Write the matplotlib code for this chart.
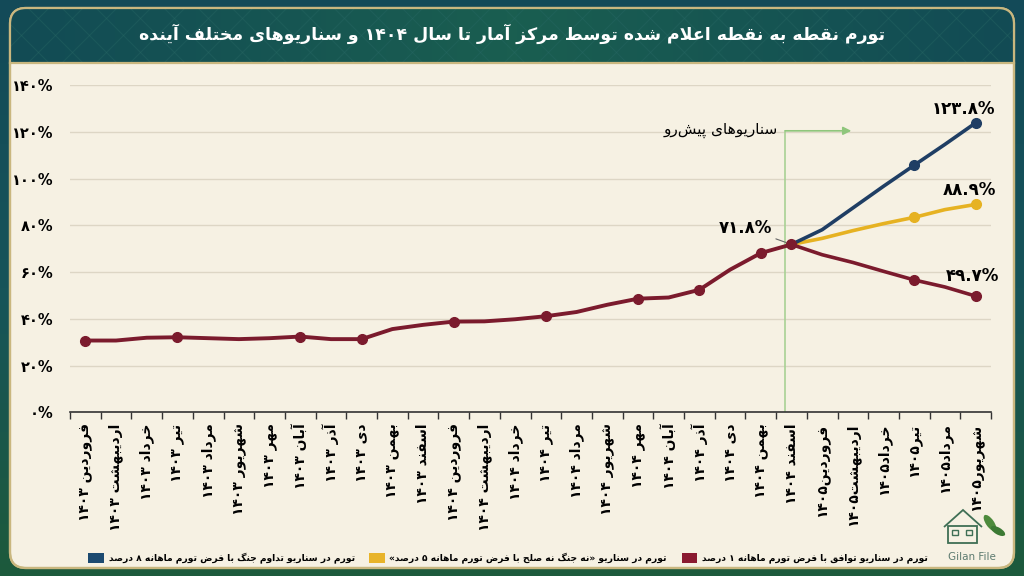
import re
import numpy as np
import matplotlib
matplotlib.use('Agg')
import matplotlib.pyplot as plt
from matplotlib.patches import FancyBboxPatch, Patch, Polygon, Ellipse, Rectangle
from matplotlib.colors import LinearSegmentedColormap

# ---- data ----
month_names = ['فروردین', 'اردیبهشت', 'خرداد', 'تیر', 'مرداد', 'شهریور',
               'مهر', 'آبان', 'آذر', 'دی', 'بهمن', 'اسفند']
years = ['۱۴۰۳', '۱۴۰۴']
tick_labels = [m + ' ' + y for y in years for m in month_names] + \
              [m + '۱۴۰۵' for m in month_names[:6]]

# actual point-to-point inflation, فروردین ۱۴۰۳ .. اسفند ۱۴۰۴
actual = [30.7, 30.7, 31.9, 32.1, 31.7, 31.3, 31.7, 32.4, 31.3, 31.3, 35.6, 37.4,
          38.8, 38.9, 39.8, 41.1, 42.9, 46.0, 48.6, 49.1, 52.4, 61.0, 68.1, 71.8]
actual_marks = [0, 3, 7, 9, 12, 15, 18, 20, 22, 23]

# scenarios, اسفند ۱۴۰۴ .. شهریور ۱۴۰۵
war = [71.8, 78.1, 87.4, 96.7, 105.7, 114.6, 123.8]
middle = [71.8, 74.4, 77.7, 80.7, 83.4, 86.7, 88.9]
deal = [71.8, 67.4, 64.1, 60.3, 56.6, 53.6, 49.7]
scen_marks = [4, 6]

title = 'تورم نقطه به نقطه اعلام شده توسط مرکز آمار تا سال ۱۴۰۴ و سناریوهای مختلف آینده'
leg_war = 'تورم در سناریو تداوم جنگ با فرض تورم ماهانه ۸ درصد'
leg_mid = 'تورم در سناریو «نه جنگ نه صلح با فرض تورم ماهانه ۵ درصد»'
leg_deal = 'تورم در سناریو توافق با فرض تورم ماهانه ۱ درصد'
scen_note = 'سناریوهای پیش\u200cرو'

# ---- simple persian shaping (matplotlib does no arabic shaping) ----
_F = {
    'ء': (0xFE80, 1), 'آ': (0xFE81, 2), 'أ': (0xFE83, 2), 'ؤ': (0xFE85, 2),
    'إ': (0xFE87, 2), 'ئ': (0xFE89, 4), 'ا': (0xFE8D, 2), 'ب': (0xFE8F, 4),
    'ة': (0xFE93, 2), 'ت': (0xFE95, 4), 'ث': (0xFE99, 4), 'ج': (0xFE9D, 4),
    'ح': (0xFEA1, 4), 'خ': (0xFEA5, 4), 'د': (0xFEA9, 2), 'ذ': (0xFEAB, 2),
    'ر': (0xFEAD, 2), 'ز': (0xFEAF, 2), 'س': (0xFEB1, 4), 'ش': (0xFEB5, 4),
    'ص': (0xFEB9, 4), 'ض': (0xFEBD, 4), 'ط': (0xFEC1, 4), 'ظ': (0xFEC5, 4),
    'ع': (0xFEC9, 4), 'غ': (0xFECD, 4), 'ف': (0xFED1, 4), 'ق': (0xFED5, 4),
    'ك': (0xFED9, 4), 'ل': (0xFEDD, 4), 'م': (0xFEE1, 4), 'ن': (0xFEE5, 4),
    'ه': (0xFEE9, 4), 'و': (0xFEED, 2), 'ى': (0xFEEF, 2), 'ي': (0xFEF1, 4),
    'پ': (0xFB56, 4), 'چ': (0xFB7A, 4), 'ژ': (0xFB8A, 2), 'ک': (0xFB8E, 4),
    'گ': (0xFB92, 4), 'ی': (0xFBFC, 4),
}
_LA = {'آ': 0xFEF5, 'أ': 0xFEF7, 'إ': 0xFEF9, 'ا': 0xFEFB}


def fa(text):
    ch = list(text)
    out = []
    i = 0
    left = lambda c: c in _F and _F[c][1] == 4
    while i < len(ch):
        c = ch[i]
        if c not in _F:
            if c != '\u200c':
                out.append(c)
            i += 1
            continue
        jp = i > 0 and left(ch[i - 1])
        if c == 'ل' and i + 1 < len(ch) and ch[i + 1] in _LA:
            out.append(chr(_LA[ch[i + 1]] + (1 if jp else 0)))
            i += 2
            continue
        nxt = ch[i + 1] if i + 1 < len(ch) else ''
        jn = left(c) and nxt in _F
        start, k = _F[c]
        form = 0
        if k > 1:
            form = 3 if (jp and jn) else 1 if jp else 2 if jn else 0
        out.append(chr(start + form))
        i += 1
    s = ''.join(out)[::-1]
    s = s.translate(str.maketrans('«»()', '»«)('))
    return re.sub(r'[0-9۰-۹.%]+', lambda m: m.group()[::-1], s)


def fnum(v):
    return str(v).translate(str.maketrans('0123456789', '۰۱۲۳۴۵۶۷۸۹'))


plt.rcParams['font.family'] = ['DejaVu Sans']

RED = '#7b1b2d'
BLUE = '#1f3e64'
YEL = '#e6b222'
CREAM = '#f6f1e3'

fig = plt.figure(figsize=(10.24, 5.76), dpi=100)
fig.patch.set_facecolor('#14505a')

# background frame, panel and title band (pixel coordinates)
bg = fig.add_axes([0, 0, 1, 1])
bg.set_xlim(0, 1024)
bg.set_ylim(576, 0)
bg.axis('off')
grad = np.linspace(0, 1, 100).reshape(-1, 1)
bg.imshow(grad, extent=(0, 1024, 576, 0), aspect='auto', zorder=0,
          cmap=LinearSegmentedColormap.from_list('fr', ['#134a58', '#17545a', '#1d5a3c']))
panel = FancyBboxPatch((10, 8), 1004, 560, boxstyle='round,pad=0,rounding_size=16',
                       fc=CREAM, ec='#c9b77f', lw=1.6, zorder=1)
bg.add_patch(panel)
band = np.linspace(0, 1, 200).reshape(1, -1)
band = 1 - np.abs(band - 0.5) * 2
im = bg.imshow(band, extent=(10, 1014, 63, 8), aspect='auto', zorder=2,
               cmap=LinearSegmentedColormap.from_list('bd', ['#124b55', '#1a5e50']))
im.set_clip_path(panel)
for x0 in range(-40, 1060, 34):
    for ya, yb in ((63, 8), (8, 63)):
        ln, = bg.plot([x0, x0 + 55], [ya, yb], color='#2a6a66', lw=0.8, alpha=0.35,
                      zorder=2.5)
        ln.set_clip_path(panel)
bg.plot([10, 1014], [63, 63], color='#c9b77f', lw=1.6, zorder=3)
bg.add_patch(FancyBboxPatch((10, 8), 1004, 560, boxstyle='round,pad=0,rounding_size=16',
                            fc='none', ec='#c9b77f', lw=1.6, zorder=3))
bg.text(512, 34, fa(title), color='white', fontsize=12.5, fontweight='bold',
        ha='center', va='center', zorder=4)

# small logo bottom right
g = '#3f6f55'
bg.add_patch(Polygon([[944, 527], [963, 510], [982, 527]], closed=False, fill=False,
                     ec=g, lw=1.3, zorder=4))
bg.add_patch(Rectangle((948, 526), 29, 17, fill=False, ec=g, lw=1.3, zorder=4))
bg.add_patch(Rectangle((952, 530), 6, 5, fill=False, ec=g, lw=1, zorder=4))
bg.add_patch(Rectangle((966, 530), 6, 5, fill=False, ec=g, lw=1, zorder=4))
bg.add_patch(Ellipse((990, 523), 8, 19, angle=-35, fc='#4d8a3c', ec='none', zorder=4))
bg.add_patch(Ellipse((998, 531), 7, 16, angle=-60, fc='#3c7a34', ec='none', zorder=4))
bg.text(972, 557, 'Gilan File', fontsize=7.5, color='#5d7b70', ha='center', va='center',
        zorder=4)

# ---- chart ----
ax = fig.add_axes([70 / 1024, 1 - 412.3 / 576, 921 / 1024, 327.3 / 576])
ax.set_facecolor('none')
x_act = np.arange(len(actual))
x_sc = np.arange(len(actual) - 1, len(actual) - 1 + len(war))

ax.plot(x_sc, middle, color=YEL, lw=2.6, marker='o', ms=7, markevery=scen_marks,
        solid_capstyle='round', zorder=4)
ax.plot(x_sc, war, color=BLUE, lw=2.6, marker='o', ms=7, markevery=scen_marks,
        solid_capstyle='round', zorder=4)
ax.plot(x_sc, deal, color=RED, lw=2.6, marker='o', ms=7, markevery=scen_marks,
        solid_capstyle='round', zorder=5)
ax.plot(x_act, actual, color=RED, lw=2.8, marker='o', ms=7, markevery=actual_marks,
        solid_capstyle='round', zorder=5)

ax.set_xlim(-0.5, 29.5)
ax.set_ylim(0, 140)
yt = list(range(0, 141, 20))
ax.set_yticks(yt)
ax.set_yticklabels([fnum(v) + '%' for v in yt], fontsize=10.5, fontweight='bold')
ax.tick_params(axis='y', length=0, pad=12)
ax.set_xticks(np.arange(len(tick_labels)))
ax.set_xticklabels([fa(t) for t in tick_labels], rotation=90, fontsize=10,
                   fontweight='bold', va='top', ha='center')
ax.set_xticks(np.arange(-0.5, len(tick_labels)), minor=True)
ax.tick_params(axis='x', which='major', length=0, pad=8)
ax.tick_params(axis='x', which='minor', length=5, width=1, color='#333333')
ax.grid(axis='y', color='#ddd6c5', lw=1)
ax.set_axisbelow(True)
for s in ['top', 'right', 'left']:
    ax.spines[s].set_visible(False)
ax.spines['bottom'].set_color('#333333')
ax.spines['bottom'].set_linewidth(1.2)

# scenario divider
xd = 22.8
ax.plot([xd, xd], [0, 120.4], color='#a8d194', lw=1.2, zorder=2)
ax.annotate('', xy=(24.95, 120.4), xytext=(xd, 120.4),
            arrowprops=dict(arrowstyle='-|>', color='#8fc67c', lw=1.2,
                            mutation_scale=12, shrinkA=0, shrinkB=0))
ax.text(22.55, 120.4, fa(scen_note), ha='right', va='center', fontsize=11)

# value labels
ax.annotate(fnum(actual[-1]) + '%', xy=(x_act[-1], actual[-1]), xytext=(22.36, 78.9),
            ha='right', va='center', fontsize=12, fontweight='bold',
            arrowprops=dict(arrowstyle='-', color='#666666', lw=0.8, shrinkA=1, shrinkB=4))
ax.text(28.6, 129.9, fnum(war[-1]) + '%', ha='center', va='center', fontsize=12,
        fontweight='bold')
ax.text(28.8, 94.9, fnum(middle[-1]) + '%', ha='center', va='center', fontsize=12,
        fontweight='bold')
ax.text(28.9, 58.1, fnum(deal[-1]) + '%', ha='center', va='center', fontsize=12,
        fontweight='bold')

handles = [Patch(fc='#1c4a70'), Patch(fc='#e8b42a'), Patch(fc='#8a1a30')]
fig.legend(handles, [fa(leg_war), fa(leg_mid), fa(leg_deal)], loc='center',
           bbox_to_anchor=(508 / 1024, 1 - 558 / 576), ncol=3, frameon=False,
           prop={'size': 6.6, 'weight': 'bold'}, handlelength=1.7, handleheight=1.4,
           handletextpad=0.5, columnspacing=1.6)

fig.savefig('out.png', dpi=100, facecolor=fig.get_facecolor())
